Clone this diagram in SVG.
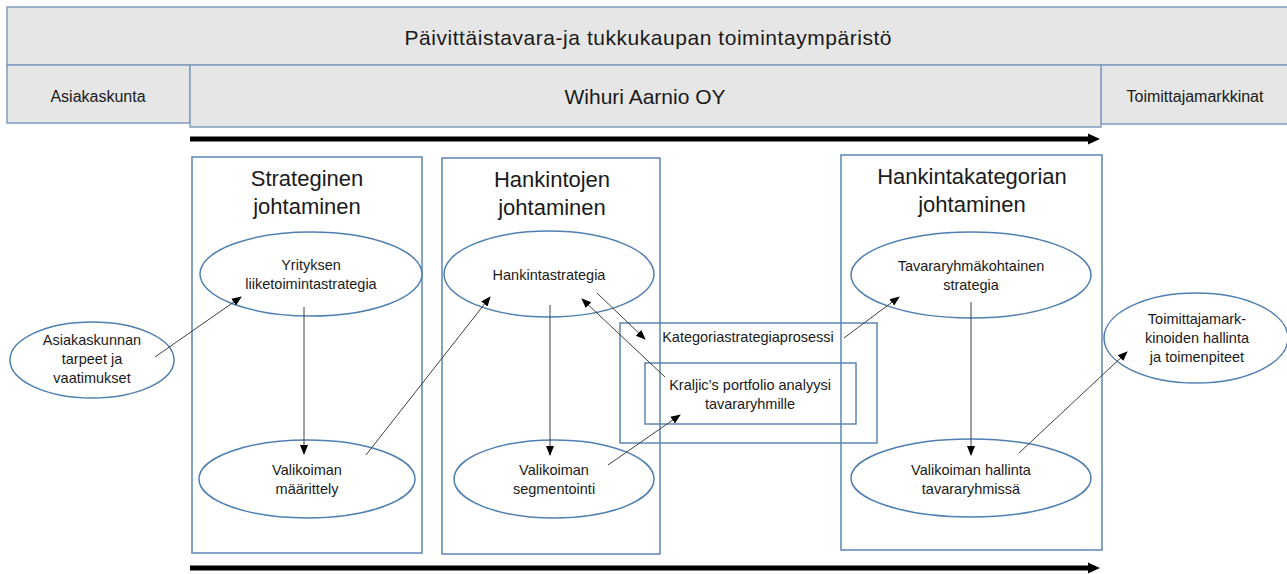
<svg xmlns="http://www.w3.org/2000/svg" width="1287" height="574" viewBox="0 0 1287 574">
<style>
.band{fill:#e7e6e6;stroke:#7f9cc0;stroke-width:1.5}
.box{fill:none;stroke:#5b87b5;stroke-width:1.5}
.ell{fill:#fff;stroke:#4f7fb0;stroke-width:1.5}
.t{font-family:"Liberation Sans",Arial,sans-serif;fill:#1a1a1a;text-anchor:middle}
.s{font-size:14.5px}
.h{font-size:22px}
.b{font-size:21px}
.m{font-size:16px}
.c{stroke:#404040;stroke-width:1;fill:none;marker-end:url(#ah)}
.thick{stroke:#000;stroke-width:5;fill:none;marker-end:url(#big)}
</style>
<defs>
<marker id="ah" markerWidth="10" markerHeight="10" refX="9" refY="5" orient="auto" markerUnits="userSpaceOnUse"><path d="M0,1 L10,5 L0,9 Z" fill="#000"/></marker>
<marker id="big" markerWidth="14" markerHeight="14" refX="2" refY="7" orient="auto" markerUnits="userSpaceOnUse"><path d="M0,1.5 L12,7 L0,12.5 Z" fill="#000"/></marker>
</defs>
<g id="env"><rect class="band" x="7" y="7" width="1290" height="58"/><text class="t b" x="648" y="45" textLength="487">Päivittäistavara-ja tukkukaupan toimintaympäristö</text></g>
<g id="asiakaskunta"><rect class="band" x="7" y="65" width="183" height="58"/><text class="t m" x="98" y="102">Asiakaskunta</text></g>
<g id="toimittajamarkkinat"><rect class="band" x="1101" y="65" width="196" height="59"/><text class="t m" x="1195" y="102">Toimittajamarkkinat</text></g>
<g id="wihuri"><rect class="band" x="190" y="65" width="911" height="62"/><text class="t b" x="645" y="104">Wihuri Aarnio OY</text></g>
<g id="strateginen"><rect class="box" x="192" y="157" width="230" height="396"/><text class="t h" x="307" y="186">Strateginen</text><text class="t h" x="307" y="214">johtaminen</text></g>
<g id="hankintojen"><rect class="box" x="442" y="158" width="218" height="396"/><text class="t h" x="552" y="187">Hankintojen</text><text class="t h" x="552" y="215">johtaminen</text></g>
<g id="hankintakategorian"><rect class="box" x="841" y="155" width="261" height="395"/><text class="t h" x="972" y="184">Hankintakategorian</text><text class="t h" x="972" y="212">johtaminen</text></g>
<g id="kategoria"><rect class="box" x="620" y="323" width="257" height="120"/><text class="t s" x="748" y="342">Kategoriastrategiaprosessi</text></g>
<g id="kraljic"><rect class="box" x="645" y="363" width="211" height="61"/><text class="t s" x="750" y="390">Kraljic’s portfolio analyysi</text><text class="t s" x="750" y="409">tavararyhmille</text></g>
<g id="yrityksen"><ellipse class="ell" cx="311" cy="274" rx="111" ry="42"/><text class="t s" x="311" y="270">Yrityksen</text><text class="t s" x="311" y="289">liiketoimintastrategia</text></g>
<g id="valikoiman-maarittely"><ellipse class="ell" cx="307" cy="479" rx="108" ry="39"/><text class="t s" x="307" y="475">Valikoiman</text><text class="t s" x="307" y="494">määrittely</text></g>
<g id="asiakaskunnan"><ellipse class="ell" cx="92" cy="360" rx="82" ry="38"/><text class="t s" x="92" y="345">Asiakaskunnan</text><text class="t s" x="92" y="364">tarpeet ja</text><text class="t s" x="92" y="383">vaatimukset</text></g>
<g id="hankintastrategia"><ellipse class="ell" cx="549" cy="274" rx="105" ry="43"/><text class="t s" x="549" y="280">Hankintastrategia</text></g>
<g id="valikoiman-segmentointi"><ellipse class="ell" cx="554" cy="479" rx="100" ry="39"/><text class="t s" x="554" y="475">Valikoiman</text><text class="t s" x="554" y="494">segmentointi</text></g>
<g id="tavararyhmakohtainen"><ellipse class="ell" cx="971" cy="275" rx="120" ry="43"/><text class="t s" x="971" y="271">Tavararyhmäkohtainen</text><text class="t s" x="971" y="290">strategia</text></g>
<g id="valikoiman-hallinta"><ellipse class="ell" cx="971" cy="478" rx="120" ry="39"/><text class="t s" x="971" y="475">Valikoiman hallinta</text><text class="t s" x="971" y="494">tavararyhmissä</text></g>
<g id="toimittajamarkkinoiden"><ellipse class="ell" cx="1196" cy="338" rx="92" ry="45"/><text class="t s" x="1197" y="324">Toimittajamark-</text><text class="t s" x="1197" y="343">kinoiden hallinta</text><text class="t s" x="1197" y="362">ja toimenpiteet</text></g>
<g id="connectors">
<line class="thick" x1="190" y1="139" x2="1090" y2="139"/>
<line class="thick" x1="190" y1="568" x2="1090" y2="568"/>
<line class="c" x1="155" y1="357" x2="241" y2="297"/>
<line class="c" x1="304" y1="307" x2="304" y2="454"/>
<line class="c" x1="366" y1="455" x2="490" y2="297"/>
<line class="c" x1="550" y1="305" x2="550" y2="455"/>
<line class="c" x1="597" y1="293" x2="645" y2="339"/>
<line class="c" x1="665" y1="377" x2="582" y2="299"/>
<line class="c" x1="608" y1="465" x2="680" y2="415"/>
<line class="c" x1="844" y1="338" x2="899" y2="297"/>
<line class="c" x1="971" y1="302" x2="971" y2="455"/>
<line class="c" x1="1019" y1="453" x2="1127" y2="352"/>
</g>
</svg>
